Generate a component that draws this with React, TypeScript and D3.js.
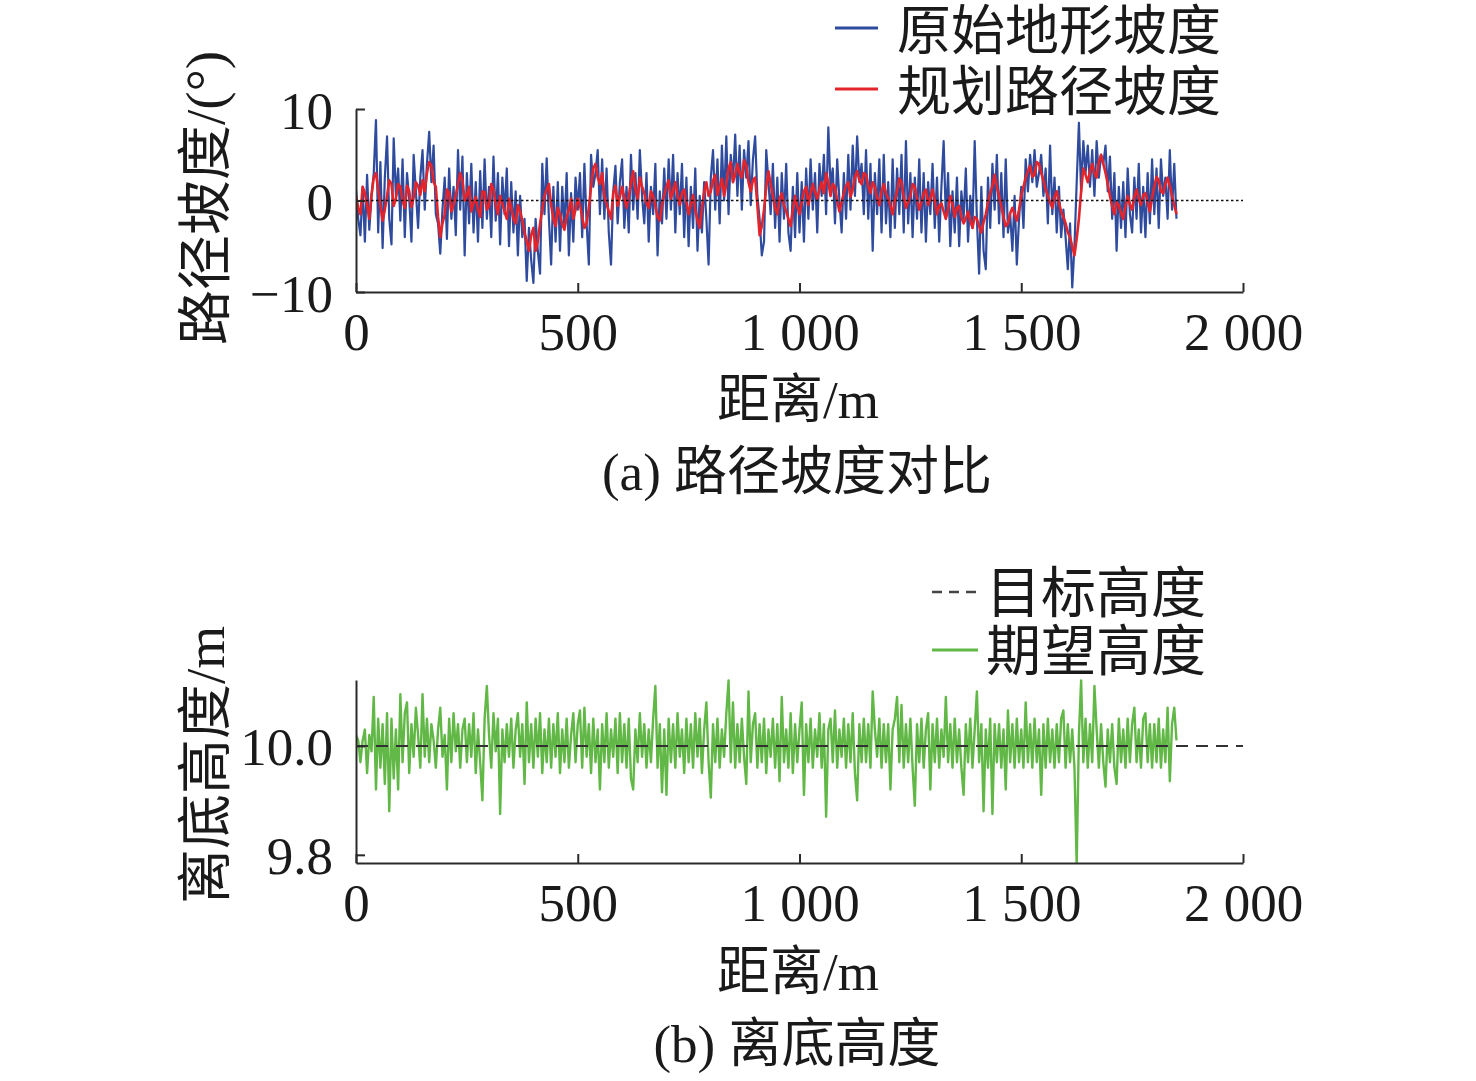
import React, { useEffect, useRef } from 'react';
import * as d3 from 'd3';

// ---------- data ----------
const distanceTicks = [0, 500, 1000, 1500, 2000];
const distanceTickLabels = ['0', '500', '1 000', '1 500', '2 000'];
const slopeTicks = [-10, 0, 10];
const slopeTickLabels = ['\u221210', '0', '10'];
const heightTicks = [9.8, 10.0];
const heightTickLabels = ['9.8', '10.0'];
const targetHeight = 10.0;

// distance sampling (m)
const sampleStep = 5;

// 原始地形坡度 (°), every 5 m from 0 to 1850 m
const terrainSlope = [
  1.2, -2.0, -3.8, 1.5, -4.5, 2.8, -3.2, 0.5, 3.0, 8.8,
  -3.5, 4.2, -5.2, 2.5, 7.0, -2.0, -4.8, 6.8, 0.5, 3.5,
  -2.2, 4.5, -4.0, 3.0, 0.2, -4.5, 5.0, 1.0, -3.0, 2.5,
  5.5, -1.0, 4.0, 7.5, 2.0, 6.0, -1.5, -2.5, -5.8, -1.0,
  2.5, -4.2, 3.5, -2.0, 1.5, -3.8, 5.5, -1.0, 4.8, -6.0,
  3.0, -2.5, 4.0, -3.5, 2.0, -4.5, 3.2, -3.0, 4.5, -2.0,
  1.5, -4.0, 4.8, -2.2, 3.0, -4.8, 2.5, -1.5, 3.5, -5.0,
  2.0, -3.5, 1.0, -6.0, 0.5, -4.0, -2.0, -8.8, -3.0, -6.5,
  -9.0, -2.0, -5.5, -8.0, 4.0, -1.5, 4.6, -2.0, -7.0, 1.5,
  -4.5, 2.0, -5.5, 1.5, -3.0, 3.0, -6.0, 0.8, -4.5, 2.5,
  -1.0, 3.0, -4.0, 4.0, -2.5, -7.0, 5.0, 1.5, 3.0, 5.5,
  -1.5, 4.5, -2.0, 3.5, -3.5, -7.0, 1.0, 3.8, -2.5, 2.0,
  4.5, -3.0, 1.5, -3.5, 5.0, -1.0, 3.0, -2.0, 5.5, 0.5,
  -2.5, 3.0, -4.5, 1.5, -1.5, 4.0, -6.0, 1.0, -2.5, 3.5,
  -2.0, 4.5, -1.0, 5.0, -3.5, 3.0, -1.5, 4.0, -4.0, 2.5,
  -5.0, 1.5, -3.0, 3.5, -5.5, 0.5, -3.5, 2.0, -2.0, -7.0,
  2.5, 5.5, -1.0, 4.5, -2.5, 6.0, 0.0, 7.0, -1.5, 5.0,
  2.0, 7.2, 0.5, 6.0, -1.0, 5.5, 2.5, 6.5, -0.5, 4.5,
  7.0, 0.5, -2.0, -6.0, -4.5, 5.5, 2.0, -1.5, 4.0, -3.0,
  2.5, -4.5, 3.0, -2.0, 4.0, -3.5, -5.5, 1.5, -4.0, 3.0,
  -3.5, 2.0, -4.5, 3.5, -2.0, 4.5, -1.0, 3.0, -3.5, 4.0,
  0.5, 5.0, -1.5, 8.0, 1.5, 3.5, -2.5, 4.5, 0.0, -3.5,
  3.0, -2.0, 5.0, -1.0, 6.0, 0.5, 7.0, 2.0, 4.0, -1.5,
  5.5, -2.0, 4.0, -5.5, 3.0, -1.5, 4.5, -3.5, 5.0, -2.5,
  2.0, -4.0, 4.5, -3.0, 3.5, -1.5, 5.0, -3.5, 6.5, -2.5,
  3.0, -4.0, 2.5, -2.0, 4.5, -3.5, 3.0, -4.5, 2.0, -1.5,
  4.0, -3.0, 2.5, -4.5, 1.5, 6.5, -2.0, 3.0, -5.0, 1.0,
  -3.5, 2.5, -5.0, 1.0, -2.0, 3.5, -4.5, 0.5, -3.0, 6.5,
  -2.0, -8.0, 1.5, -5.5, -7.5, 2.5, -3.0, 4.0, -1.0, 5.0,
  -2.5, 3.0, -4.0, 4.5, -3.5, -1.5, -5.5, 0.5, -7.0, -2.0,
  1.5, -3.0, 4.5, 1.0, 5.0, 2.0, 5.5, 1.5, 3.0, 5.0,
  0.5, 3.5, -2.5, 6.0, -1.5, 2.5, -3.5, 1.5, -4.0, -1.0,
  -4.0, -7.5, -2.5, -9.5, -5.0, 2.0, 8.5, 1.0, 6.5, 3.0,
  6.0, 1.5, 5.5, 0.5, 6.5, 2.5, 5.0, 4.0, 6.0, 1.0,
  4.8, -2.0, 3.0, -5.5, 1.5, -3.0, 2.0, -4.0, 3.5, -1.5,
  -3.5, 2.5, -2.0, 4.0, -3.5, 1.5, -4.0, 3.0, -2.5, 4.5,
  -1.5, 3.5, -3.0, 4.5, 0.5, 2.5, -2.0, 5.5, -1.0, 4.0,
  -2.0,
];

// 规划路径坡度 (°), every 5 m from 0 to 1850 m
const plannedSlope = [
  0.5, -0.8, -1.5, 1.5, 0.8, -0.5, -2.0, 0.6, 2.5, 3.0,
  1.2, -0.5, -2.2, -1.0, 0.5, 2.2, 1.8, -0.6, 0.2, 1.8,
  1.5, 0.0, -0.8, 1.6, 1.0, -0.7, 0.3, 2.0, 1.6, 0.6,
  2.2, 1.0, 3.0, 4.2, 3.8, 2.0, 1.5, -1.8, -4.0, -2.5,
  -1.5, 1.2, 0.8, -1.2, -0.5, 0.6, 1.8, 3.0, 2.2, 0.0,
  0.6, 1.5, -1.2, -0.3, 0.4, -1.0, -1.8, 1.0, 0.9, -1.0,
  -0.6, 1.8, 1.2, -0.4, -1.5, 0.5, -0.3, -1.2, -2.0, 0.2,
  -0.8, -2.0, -2.5, -0.5, -1.2, -2.2, -3.5, -4.5, -5.5, -3.8,
  -3.0, -5.5, -4.5, -2.5, -1.0, 0.5, 1.2, 1.8, -0.5, -2.0,
  -2.8, -0.8, -1.5, -2.6, -3.2, -1.8, -1.0, 0.2, -2.0, -1.0,
  0.2, -0.5, -1.8, -3.0, -2.5, -0.8, 1.5, 3.5, 4.0, 2.5,
  1.8, 3.0, 0.5, -0.4, -1.2, -2.0, 0.8, 1.6, -0.6, 0.4,
  1.5, 0.3, -0.8, 0.5, 2.0, 3.2, 1.2, 0.2, 2.5, 1.5,
  0.8, -0.3, -0.8, 1.0, 0.5, -0.6, -1.8, -2.2, -0.5, 0.6,
  1.5, 2.2, 0.2, 1.0, 2.0, 0.6, -0.5, 0.8, 1.2, -0.2,
  -1.5, -0.4, 0.6, -1.0, -2.2, -3.0, -0.8, 0.9, 2.0, 0.5,
  1.0, 2.2, 2.8, 0.6, 1.5, 2.4, 0.5, 1.8, 3.5, 4.2,
  2.0, 2.8, 4.0, 3.0, 2.5, 4.4, 3.8, 2.0, 1.0, 2.2,
  2.5, -0.5, -3.8, -2.8, -1.0, 1.5, 3.2, 1.8, 0.5, -0.8,
  -1.5, 0.2, 0.8, -0.5, -1.2, -2.0, -2.8, -1.0, 0.5, -0.6,
  -1.5, -0.2, 1.0, 1.5, -0.5, 0.8, 1.8, 0.9, 0.2, 1.2,
  2.0, 0.8, 3.0, 2.0, 0.5, 1.8, 1.5, 0.0, -1.2, -0.2,
  0.8, 1.6, 2.0, 0.4, 1.2, 2.6, 3.2, 2.2, 1.8, 3.0,
  2.8, 1.6, 0.8, 2.0, 1.5, 0.2, -0.5, 1.0, 1.8, 0.8,
  0.2, -0.6, -1.5, 0.0, 1.0, 2.4, 2.0, 0.4, -0.8, -0.2,
  0.5, 1.8, 1.5, 0.2, -1.0, -0.2, 0.8, 1.2, -0.5, 0.3,
  1.2, 0.0, -1.5, -0.6, -0.3, -1.2, -2.0, -1.0, 0.5, -0.4,
  -1.8, -0.8, -0.6, -1.8, -2.5, -2.0, -1.2, -2.2, -3.0, -1.8,
  -2.0, -2.8, -3.5, -2.4, -1.5, -0.2, 0.8, 1.6, 2.8, 1.5,
  0.5, -0.6, -1.8, -2.8, -2.5, -1.4, -0.8, -1.5, -2.2, -1.0,
  0.5, 1.5, 2.5, 3.2, 3.8, 2.6, 2.8, 4.2, 4.0, 3.0,
  2.2, 1.2, 0.5, -0.2, -0.8, 0.4, 1.0, -0.2, -1.2, -1.8,
  -2.5, -3.5, -4.0, -5.0, -6.0, -4.2, -2.0, 1.0, 3.5, 2.8,
  2.0, 3.2, 4.0, 3.0, 2.5, 4.2, 5.0, 4.0, 3.0, 1.8,
  0.5, -0.6, -1.5, -0.2, -0.5, -1.4, -2.0, -0.6, 0.5, -0.4,
  -1.0, 0.4, 1.2, 0.2, -0.5, 0.6, 0.8, -0.2, -1.2, 0.3,
  1.5, 2.6, 2.2, 1.0, 0.8, 1.8, 2.5, 1.6, 0.5, -0.5,
  -1.5,
];

// 期望高度 (m), every 5 m from 0 to 1850 m
const expectedHeight = [
  10.02, 10.01, 9.97, 10.01, 10.03, 9.95, 10.02, 9.99, 10.09, 9.92,
  10.05, 9.96, 10.04, 9.93, 10.06, 9.88, 10.05, 9.94, 10.03, 9.92,
  10.095, 9.97, 10.06, 10.08, 9.95, 10.04, 9.98, 10.07, 10.02, 9.96,
  10.095, 9.98, 10.05, 9.97, 10.04, 10.01, 9.96, 10.03, 10.07, 9.98,
  10.02, 9.92, 10.05, 9.97, 10.06, 9.99, 10.04, 9.96, 10.03, 10.05,
  9.97, 10.04, 9.98, 10.06, 9.95, 10.03, 9.97, 9.90, 10.05, 10.11,
  10.02, 9.96, 10.06, 9.99, 10.05, 9.875, 10.03, 9.97, 10.04, 9.98,
  10.05, 9.96, 10.03, 10.06, 9.98, 10.04, 9.93, 10.08, 9.97, 10.04,
  9.96, 10.05, 9.98, 10.06, 9.95, 10.03, 9.97, 10.05, 9.96, 10.04,
  9.98, 10.06, 9.95, 10.03, 9.97, 10.05, 9.96, 10.02, 10.06, 9.97,
  10.04, 10.065, 9.96, 10.07, 9.98, 10.04, 9.95, 10.05, 9.97, 10.03,
  9.92, 10.04, 9.97, 10.06, 9.96, 10.03, 9.98, 10.05, 9.95, 10.06,
  9.97, 10.04, 9.96, 10.05, 9.94, 9.92, 10.03, 9.97, 10.06, 9.98,
  10.04, 9.96, 10.03, 9.97, 10.05, 10.11, 9.96, 10.04, 9.915, 10.03,
  9.91, 10.05, 9.97, 10.04, 9.96, 10.06, 9.98, 10.03, 9.95, 10.05,
  9.97, 10.04, 9.96, 10.06, 9.98, 10.05, 9.95, 10.03, 10.08, 9.97,
  9.905, 10.04, 9.97, 10.05, 9.96, 10.03, 9.98, 10.06, 10.12, 9.97,
  10.08, 9.96, 10.04, 9.97, 10.05, 9.98, 9.93, 10.10, 9.97, 10.04,
  10.06, 9.96, 10.04, 9.97, 10.05, 9.95, 10.03, 9.98, 10.05, 9.96,
  10.04, 9.935, 10.09, 9.97, 10.03, 9.96, 10.06, 9.95, 10.04, 9.97,
  10.03, 10.08, 9.91, 10.04, 9.97, 10.05, 9.96, 10.03, 9.98, 10.06,
  9.96, 10.04, 9.87, 10.03, 10.05, 9.97, 10.065, 9.96, 10.03, 9.98,
  10.05, 9.96, 10.04, 9.97, 10.06, 9.95, 9.90, 10.04, 9.97, 10.05,
  9.97, 10.04, 9.96, 10.10, 10.03, 9.98, 10.05, 9.96, 10.04, 9.97,
  10.04, 9.92, 10.03, 10.05, 10.09, 9.97, 10.075, 9.96, 10.04, 9.97,
  10.05, 9.96, 9.89, 10.04, 9.97, 10.05, 9.96, 10.03, 10.06, 9.92,
  10.04, 9.97, 10.05, 9.96, 10.03, 9.98, 10.09, 9.97, 10.04, 9.96,
  10.05, 9.97, 10.03, 9.96, 9.91, 10.04, 9.97, 10.05, 9.96, 10.03,
  10.10, 9.97, 10.04, 9.88, 10.03, 9.96, 10.05, 9.875, 10.04, 9.97,
  10.04, 9.96, 10.03, 9.92, 10.065, 9.97, 10.04, 9.96, 10.05, 9.97,
  10.03, 9.96, 10.08, 9.97, 10.04, 9.96, 10.05, 9.97, 10.03, 9.91,
  10.04, 9.96, 10.05, 9.97, 10.03, 9.96, 10.04, 9.97, 10.05, 10.065,
  9.96, 10.04, 9.97, 10.03, 9.96, 9.78, 10.02, 10.12, 9.97, 10.05,
  9.96, 10.04, 9.97, 10.11, 10.03, 9.96, 10.04, 9.97, 9.925, 10.03,
  9.97, 10.04, 9.96, 9.93, 10.05, 9.97, 10.03, 9.96, 10.05, 9.97,
  10.04, 10.07, 9.97, 10.03, 9.96, 10.05, 10.06, 9.97, 10.04, 9.96,
  10.04, 9.97, 10.05, 9.96, 10.03, 9.97, 10.07, 9.935, 10.04, 10.07,
  10.01,
];

// ---------- drawing ----------
const SERIF = '"Liberation Serif", "Times New Roman", "Noto Sans CJK SC", serif';
const BLUE = '#2f4b9e';
const RED = '#e3242b';
const GREEN = '#62b846';
const AXIS = '#2a2a2a';
const TEXT = '#1a1a1a';

type Pt = [number, number];

function pairs(values: number[], step: number): Pt[] {
  return values.map((v, i) => [i * step, v] as Pt);
}

export default function App() {
  const ref = useRef<SVGSVGElement>(null);

  useEffect(() => {
    const svg = d3.select(ref.current as SVGSVGElement);
    svg.selectAll('*').remove();

    const x = d3.scaleLinear().domain([0, 2000]).range([356, 1243]);

    const drawAxes = (
      g: d3.Selection<SVGGElement, unknown, null, undefined>,
      y: d3.ScaleLinear<number, number>,
      yTicks: number[],
      yLabels: string[],
      bottom: number,
    ) => {
      const xAxis = d3
        .axisBottom(x)
        .tickValues(distanceTicks)
        .tickSizeInner(-9)
        .tickSizeOuter(0)
        .tickFormat((_d, i) => distanceTickLabels[i]);
      const yAxis = d3
        .axisLeft(y)
        .tickValues(yTicks)
        .tickSizeInner(-9)
        .tickSizeOuter(0)
        .tickFormat((_d, i) => yLabels[i]);

      const gx = g.append('g').attr('transform', `translate(0,${bottom})`).call(xAxis);
      const gy = g.append('g').attr('transform', `translate(${x(0)},0)`).call(yAxis);
      [gx, gy].forEach((a) => {
        a.attr('font-family', SERIF).attr('font-size', 53);
        a.selectAll('.domain').attr('stroke', AXIS).attr('stroke-width', 2);
        a.selectAll('.tick line').attr('stroke', AXIS).attr('stroke-width', 2);
        a.selectAll('.tick text').attr('fill', TEXT);
      });
      gx.selectAll('.tick text').attr('y', 58).attr('dy', 0);
      gy.selectAll('.tick text').attr('x', -23).attr('dy', '0.36em');
    };

    const addText = (
      txt: string,
      tx: number,
      ty: number,
      size: number,
      anchor = 'middle',
      rotate = false,
    ) => {
      const t = svg
        .append('text')
        .attr('font-family', SERIF)
        .attr('font-size', size)
        .attr('fill', TEXT)
        .attr('text-anchor', anchor)
        .text(txt);
      if (rotate) {
        t.attr('transform', `translate(${tx},${ty}) rotate(-90)`).attr('dy', '0.35em');
      } else {
        t.attr('x', tx).attr('y', ty);
      }
      return t;
    };

    // ===== Panel (a) =====
    const ya = d3.scaleLinear().domain([-10, 10]).range([292, 109]);
    const ga = svg.append('g');
    const clipA = svg.append('clipPath').attr('id', 'clipA');
    clipA.append('rect').attr('x', 356).attr('y', 109).attr('width', 887).attr('height', 183);

    const lineA = d3
      .line<Pt>()
      .x((d) => x(d[0]))
      .y((d) => ya(d[1]));

    ga.append('path')
      .attr('clip-path', 'url(#clipA)')
      .attr('d', lineA(pairs(terrainSlope, sampleStep)) || '')
      .attr('fill', 'none')
      .attr('stroke', BLUE)
      .attr('stroke-width', 2.2)
      .attr('stroke-linejoin', 'round');
    ga.append('path')
      .attr('clip-path', 'url(#clipA)')
      .attr('d', lineA(pairs(plannedSlope, sampleStep)) || '')
      .attr('fill', 'none')
      .attr('stroke', RED)
      .attr('stroke-width', 2.6)
      .attr('stroke-linejoin', 'round');
    ga.append('line')
      .attr('x1', x(0))
      .attr('x2', x(2000))
      .attr('y1', ya(0))
      .attr('y2', ya(0))
      .attr('stroke', '#111')
      .attr('stroke-width', 1.6)
      .attr('stroke-dasharray', '2.5,2.5');

    drawAxes(ga, ya, slopeTicks, slopeTickLabels, 292);

    addText('路径坡度/(°)', 205, 198, 55, 'middle', true);
    addText('距离/m', 798, 418, 53);
    addText('(a) 路径坡度对比', 797, 490, 53);

    // legend (a)
    svg.append('line').attr('x1', 835).attr('x2', 878).attr('y1', 28).attr('y2', 28)
      .attr('stroke', BLUE).attr('stroke-width', 3);
    addText('原始地形坡度', 1221, 50, 54, 'end');
    svg.append('line').attr('x1', 835).attr('x2', 878).attr('y1', 89).attr('y2', 89)
      .attr('stroke', RED).attr('stroke-width', 3);
    addText('规划路径坡度', 1221, 111, 54, 'end');

    // ===== Panel (b) =====
    const yb = d3.scaleLinear().domain([9.785, 10.121]).range([863, 680]);
    const gb = svg.append('g');
    const clipB = svg.append('clipPath').attr('id', 'clipB');
    clipB.append('rect').attr('x', 356).attr('y', 670).attr('width', 887).attr('height', 193);

    const lineB = d3
      .line<Pt>()
      .x((d) => x(d[0]))
      .y((d) => yb(d[1]));

    gb.append('path')
      .attr('clip-path', 'url(#clipB)')
      .attr('d', lineB(pairs(expectedHeight, sampleStep)) || '')
      .attr('fill', 'none')
      .attr('stroke', GREEN)
      .attr('stroke-width', 2.4)
      .attr('stroke-linejoin', 'round');
    gb.append('line')
      .attr('x1', x(0))
      .attr('x2', x(2000))
      .attr('y1', yb(targetHeight))
      .attr('y2', yb(targetHeight))
      .attr('stroke', '#333')
      .attr('stroke-width', 2)
      .attr('stroke-dasharray', '12,8');

    drawAxes(gb, yb, heightTicks, heightTickLabels, 863);

    addText('离底高度/m', 205, 765, 55, 'middle', true);
    addText('距离/m', 798, 990, 53);
    addText('(b) 离底高度', 797, 1062, 53);

    // legend (b)
    svg.append('line').attr('x1', 932).attr('x2', 978).attr('y1', 592).attr('y2', 592)
      .attr('stroke', '#444').attr('stroke-width', 2.5).attr('stroke-dasharray', '10,7');
    addText('目标高度', 1206, 612, 55, 'end');
    svg.append('line').attr('x1', 932).attr('x2', 978).attr('y1', 650).attr('y2', 650)
      .attr('stroke', GREEN).attr('stroke-width', 3);
    addText('期望高度', 1206, 670, 55, 'end');
  }, []);

  return (
    <svg
      ref={ref}
      width={1476}
      height={1081}
      style={{ position: 'absolute', left: 0, top: 0, background: '#fff' }}
    />
  );
}
